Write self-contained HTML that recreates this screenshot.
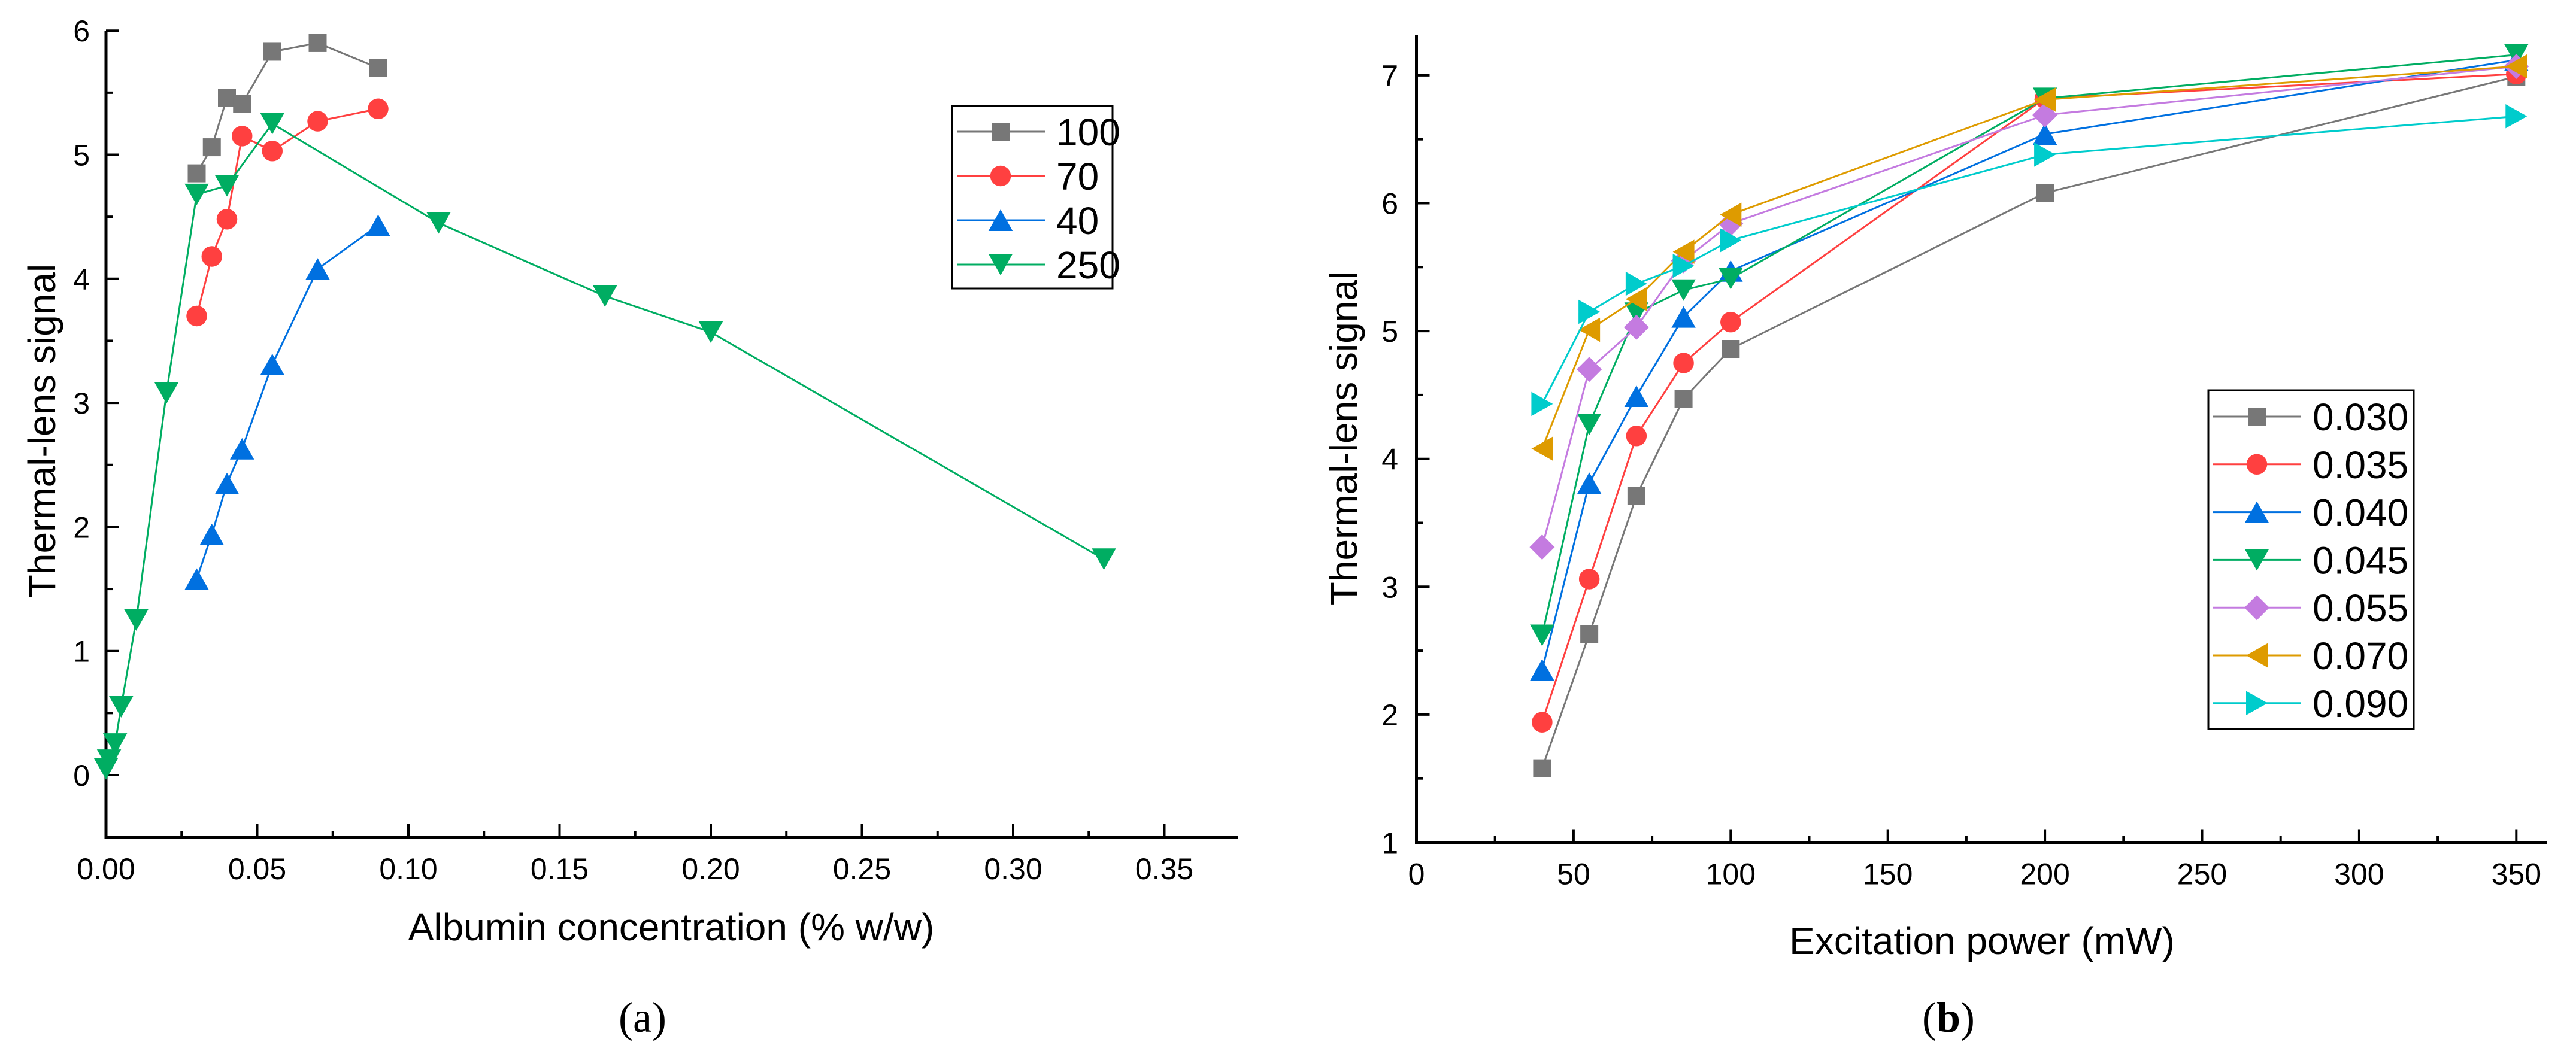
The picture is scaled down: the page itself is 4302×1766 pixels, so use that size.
<!DOCTYPE html>
<html><head><meta charset="utf-8"><style>
html,body{margin:0;padding:0;background:#fff}
svg{display:block}
text{font-family:"Liberation Sans",sans-serif;fill:#000}
</style></head><body>
<svg id="fig" width="4302" height="1766" viewBox="0 0 4302 1766" xmlns="http://www.w3.org/2000/svg">
<g id="pa"></g>
<g id="pb"></g>
</svg>
<script>
// Panel a data
const aX100=[0.03,0.035,0.04,0.045,0.055,0.07,0.09];
const aY100=[4.85,5.06,5.46,5.41,5.83,5.90,5.70];
const aX70=[0.03,0.035,0.04,0.045,0.055,0.07,0.09];
const aY70=[3.70,4.18,4.48,5.15,5.03,5.27,5.37];
const aX40=[0.03,0.035,0.04,0.045,0.055,0.07,0.09];
const aY40=[1.58,1.94,2.35,2.63,3.31,4.08,4.43];
const aX250=[0,0.001,0.003,0.005,0.01,0.02,0.03,0.04,0.055,0.11,0.165,0.2,0.33];
const aY250=[0.05,0.12,0.25,0.55,1.25,3.08,4.68,4.75,5.25,4.45,3.86,3.57,1.74];
const aXTicks=["0.00","0.05","0.10","0.15","0.20","0.25","0.30","0.35"];
const aYTicks=["0","1","2","3","4","5","6"];
// Panel b data
const bX=[40,55,70,85,100,200,350];
const b030=[1.58,2.63,3.71,4.47,4.86,6.08,6.99];
const b035=[1.94,3.06,4.18,4.75,5.07,6.82,7.01];
const b040=[2.35,3.81,4.49,5.11,5.47,6.54,7.12];
const b045=[2.62,4.27,5.14,5.32,5.41,6.82,7.16];
const b055=[3.31,4.70,5.03,5.55,5.84,6.69,7.07];
const b070=[4.08,5.01,5.25,5.62,5.91,6.81,7.07];
const b090=[4.43,5.15,5.37,5.51,5.71,6.38,6.68];
const bXTicks=["0","50","100","150","200","250","300","350"];
const bYTicks=["1","2","3","4","5","6","7"];

const NS="http://www.w3.org/2000/svg";
function mk(p,tag,attrs,txt){const e=document.createElementNS(NS,tag);for(const k in attrs)e.setAttribute(k,attrs[k]);if(txt!==undefined)e.textContent=txt;p.appendChild(e);return e;}

function marker(g,shape,cx,cy,col,s){
  let e;
  if(shape==="sq") e=mk(g,"rect",{x:cx-s,y:cy-s,width:2*s,height:2*s,fill:col});
  else if(shape==="ci") e=mk(g,"circle",{cx:cx,cy:cy,r:s*1.15,fill:col});
  else if(shape==="up") e=mk(g,"polygon",{points:`${cx},${cy-s*1.2} ${cx-s*1.35},${cy+s*1.2} ${cx+s*1.35},${cy+s*1.2}`,fill:col});
  else if(shape==="dn") e=mk(g,"polygon",{points:`${cx},${cy+s*1.2} ${cx-s*1.35},${cy-s*1.2} ${cx+s*1.35},${cy-s*1.2}`,fill:col});
  else if(shape==="di") e=mk(g,"polygon",{points:`${cx},${cy-s*1.4} ${cx+s*1.4},${cy} ${cx},${cy+s*1.4} ${cx-s*1.4},${cy}`,fill:col});
  else if(shape==="lf") e=mk(g,"polygon",{points:`${cx-s*1.2},${cy} ${cx+s*1.2},${cy-s*1.35} ${cx+s*1.2},${cy+s*1.35}`,fill:col});
  else if(shape==="rt") e=mk(g,"polygon",{points:`${cx+s*1.2},${cy} ${cx-s*1.2},${cy-s*1.35} ${cx-s*1.2},${cy+s*1.35}`,fill:col});
  
  
  return e;
}

function axes(g,o){
  const ax=mk(g,"g",{});
  
  
  mk(ax,"line",{x1:o.x0,y1:o.yTop,x2:o.x0,y2:o.yBot+2.5,stroke:"#000","stroke-width":5});
  mk(ax,"line",{x1:o.x0-2.5,y1:o.yBot,x2:o.xEnd,y2:o.yBot,stroke:"#000","stroke-width":5});
  o.xTicks.forEach((t,i)=>{
    const v=o.xMin+i*o.xStep, x=o.sx(v);
    mk(ax,"line",{x1:x,y1:o.yBot,x2:x,y2:o.yBot-22,stroke:"#000","stroke-width":4});
    const xm=o.sx(v+o.xStep/2);
    if(xm<o.xEnd) mk(ax,"line",{x1:xm,y1:o.yBot,x2:xm,y2:o.yBot-11,stroke:"#000","stroke-width":4});
    const tl=mk(ax,"text",{x:x,y:o.yBot+70,"font-size":50,"text-anchor":"middle"},t);
    
    
  });
  o.yTicks.forEach((t,i)=>{
    const v=o.yMin+i, y=o.sy(v);
    mk(ax,"line",{x1:o.x0,y1:y,x2:o.x0+22,y2:y,stroke:"#000","stroke-width":4});
    const ym=o.sy(v-0.5);
    if(ym<o.yBot) mk(ax,"line",{x1:o.x0,y1:ym,x2:o.x0+11,y2:ym,stroke:"#000","stroke-width":4});
    const tl=mk(ax,"text",{x:o.yLabR,y:y+18,"font-size":50,"text-anchor":"end"},t);
    
    
  });
}

function series(g,xs,ys,sx,sy,col,shape,name){
  const sg=mk(g,"g",{});
  
  
  const pts=xs.map((x,i)=>sx(x)+","+sy(ys[i])).join(" ");
  mk(sg,"polyline",{points:pts,fill:"none",stroke:col,"stroke-width":3});
  xs.forEach((x,i)=>marker(sg,shape,sx(x),sy(ys[i]),col,15));
}

function legend(g,x,y,w,h,items,rowH,first,fs){
  const lg=mk(g,"g",{});
  
  
  mk(lg,"rect",{x:x,y:y,width:w,height:h,fill:"#fff",stroke:"#000","stroke-width":3});
  items.forEach((it,i)=>{
    const cy=y+first+i*rowH;
    const eg=mk(lg,"g",{});
    
    
    mk(eg,"line",{x1:x+8,y1:cy,x2:x+155,y2:cy,stroke:it.c,"stroke-width":3});
    marker(eg,it.s,x+81,cy,it.c,15);
    mk(eg,"text",{x:x+174,y:cy+23,"font-size":64},it.l);
  });
}

const GRAY="#777777",RED="#ff4040",BLUE="#0070e0",GREEN="#00ad62",PURP="#c47be0",ORNG="#de9b00",CYAN="#00cccc";

// Panel a
(function(){
  const g=document.getElementById("pa");
  const sx=v=>177+v/0.05*252.5, sy=v=>1295-v*207.3;
  axes(g,{x0:177,yTop:51,yBot:1399,xEnd:2067,sx:sx,sy:sy,xMin:0,xStep:0.05,xTicks:aXTicks,yMin:0,yTicks:aYTicks,yLabR:150});
  series(g,aX100,aY100,sx,sy,GRAY,"sq","series-100");
  series(g,aX70,aY70,sx,sy,RED,"ci","series-70");
  series(g,aX40,aY40,sx,sy,BLUE,"up","series-40");
  series(g,aX250,aY250,sx,sy,GREEN,"dn","series-250");
  legend(g,1590,177,268,305,[{c:GRAY,s:"sq",l:"100"},{c:RED,s:"ci",l:"70"},{c:BLUE,s:"up",l:"40"},{c:GREEN,s:"dn",l:"250"}],74,43,62);
  const yt=mk(g,"text",{x:0,y:0,"font-size":64,"text-anchor":"middle",transform:"translate(92,720) rotate(-90)"},"Thermal-lens signal");
  
  const xt=mk(g,"text",{x:1121,y:1571,"font-size":64,"text-anchor":"middle"},"Albumin concentration (% w/w)");
  
  const cap=mk(g,"text",{x:1073,y:1724,"font-size":72,"text-anchor":"middle",style:"font-family:'Liberation Serif',serif"},"(a)");
  
})();

// Panel b
(function(){
  const g=document.getElementById("pb");
  const sx=v=>2365.5+v/50*262.4, sy=v=>1407.5-(v-1)*213.6;
  axes(g,{x0:2365.5,yTop:58,yBot:1407.5,xEnd:4254,sx:sx,sy:sy,xMin:0,xStep:50,xTicks:bXTicks,yMin:1,yTicks:bYTicks,yLabR:2335});
  series(g,bX,b030,sx,sy,GRAY,"sq","series-0.030");
  series(g,bX,b035,sx,sy,RED,"ci","series-0.035");
  series(g,bX,b040,sx,sy,BLUE,"up","series-0.040");
  series(g,bX,b045,sx,sy,GREEN,"dn","series-0.045");
  series(g,bX,b055,sx,sy,PURP,"di","series-0.055");
  series(g,bX,b070,sx,sy,ORNG,"lf","series-0.070");
  series(g,bX,b090,sx,sy,CYAN,"rt","series-0.090");
  legend(g,3688,652,343,566,[{c:GRAY,s:"sq",l:"0.030"},{c:RED,s:"ci",l:"0.035"},{c:BLUE,s:"up",l:"0.040"},{c:GREEN,s:"dn",l:"0.045"},{c:PURP,s:"di",l:"0.055"},{c:ORNG,s:"lf",l:"0.070"},{c:CYAN,s:"rt",l:"0.090"}],79.8,44,64);
  const yt=mk(g,"text",{x:0,y:0,"font-size":64,"text-anchor":"middle",transform:"translate(2266,732) rotate(-90)"},"Thermal-lens signal");
  
  const xt=mk(g,"text",{x:3310,y:1594,"font-size":64,"text-anchor":"middle"},"Excitation power (mW)");
  
  const cap=mk(g,"text",{x:3254,y:1724,"font-size":72,"text-anchor":"middle",style:"font-family:'Liberation Serif',serif"},"(");
  
  mk(cap,"tspan",{"font-weight":"bold"},"b");
  mk(cap,"tspan",{},")");
})();
</script>
</body></html>
